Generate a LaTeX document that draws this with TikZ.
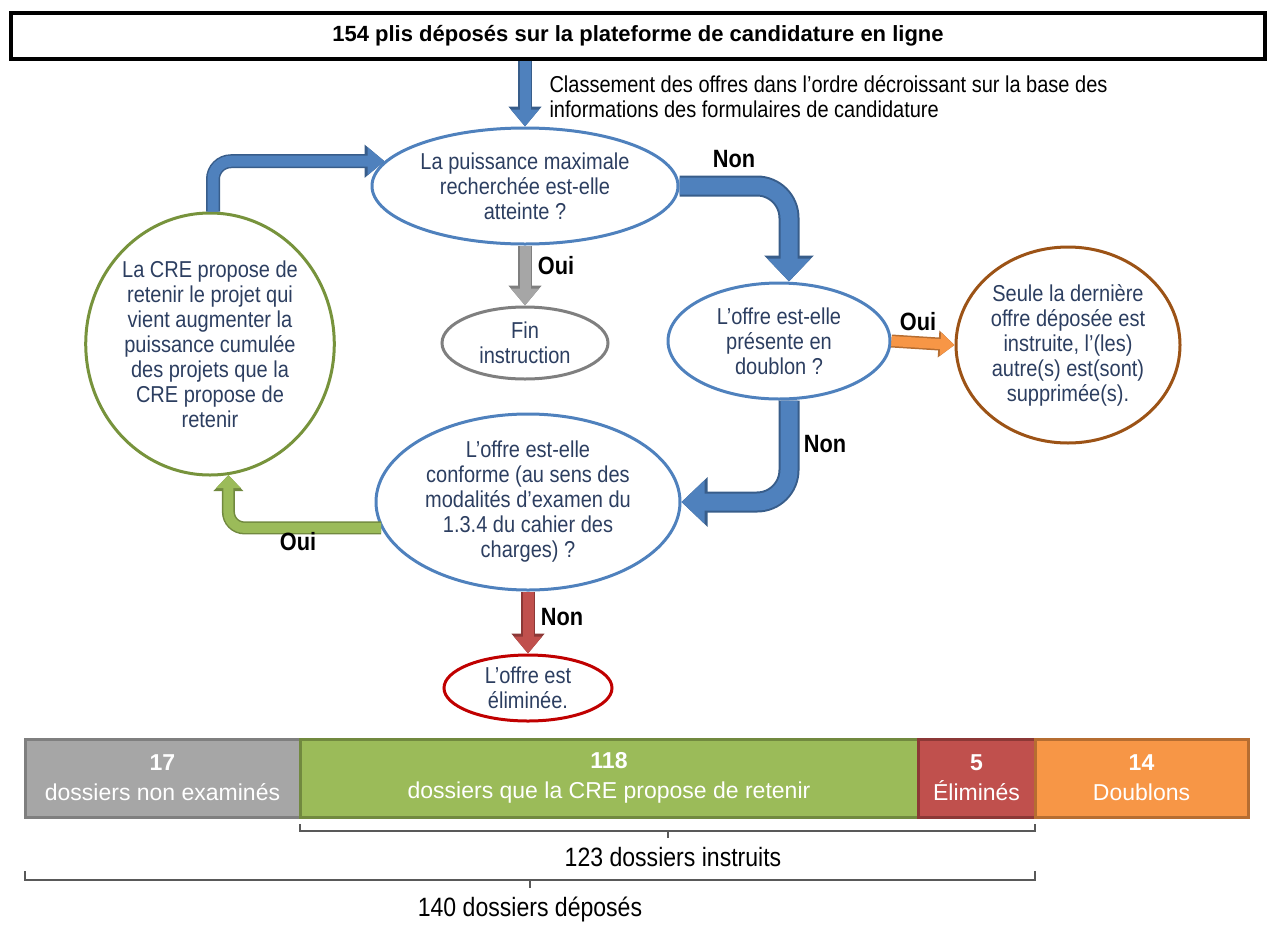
\documentclass[tikz,border=0pt]{standalone}
\usepackage{fontspec}
\setmainfont{Liberation Sans}[FakeStretch=0.87]
\newfontfamily\barfont{Liberation Sans}
\usetikzlibrary{shapes.geometric,arrows.meta}
\definecolor{bluef}{HTML}{4F81BD}
\definecolor{blueb}{HTML}{385D8A}
\definecolor{grayf}{HTML}{A6A6A6}
\definecolor{grayb}{HTML}{7F7F7F}
\definecolor{greenf}{HTML}{9BBB59}
\definecolor{greenb}{HTML}{71893F}
\definecolor{redf}{HTML}{C0504D}
\definecolor{redb}{HTML}{8C3836}
\definecolor{orangef}{HTML}{F79646}
\definecolor{orangeb}{HTML}{B66D31}
\definecolor{brownc}{HTML}{9C5316}
\definecolor{greenc}{HTML}{77933C}
\definecolor{redc}{HTML}{C00000}
\definecolor{txt}{RGB}{44,62,96}
\definecolor{bracec}{HTML}{595959}
\begin{document}
\begin{tikzpicture}[x=1pt,y=-1pt,
  bubble/.style={ellipse,draw=bluef,line width=3pt,inner sep=0pt,align=center,text=txt,
    font=\fontsize{23}{25}\selectfont},
  lbl/.style={font=\bfseries\fontsize{25}{27}\selectfont,text=black},
  arrblue/.style={draw=bluef,line width=11pt,rounded corners=#1,-{Triangle[width=27pt,length=17pt]},
    preaction={draw=blueb,line width=14pt,rounded corners=#1,-{Triangle[width=32pt,length=20pt]}}},
  arrbig/.style={draw=bluef,line width=17pt,rounded corners=32pt,-{Triangle[width=42pt,length=23pt]},
    preaction={draw=blueb,line width=21pt,rounded corners=32pt,-{Triangle[width=48pt,length=26pt]}}},
  arrgray/.style={draw=grayf,line width=11pt,-{Triangle[width=27pt,length=17pt]},
    preaction={draw=grayb,line width=14pt,-{Triangle[width=32pt,length=20pt]}}},
  arrred/.style={draw=redf,line width=11pt,-{Triangle[width=27pt,length=17pt]},
    preaction={draw=redb,line width=14pt,-{Triangle[width=32pt,length=20pt]}}},
  arrgreen/.style={draw=greenf,line width=10pt,rounded corners=16pt,-{Triangle[width=24pt,length=13pt]},
    preaction={draw=greenb,line width=13pt,rounded corners=16pt,-{Triangle[width=29pt,length=16pt]}}},
  arrorange/.style={draw=orangef,line width=10pt,-{Triangle[width=22pt,length=14pt]},
    preaction={draw=orangeb,line width=13pt,-{Triangle[width=26pt,length=16pt]}}},
  seg/.style={rectangle,line width=3pt,inner sep=0pt,minimum height=78pt,align=center,text=white,
    font=\barfont\fontsize{23}{30}\selectfont},
  brace/.style={draw=bracec,line width=1.3pt},
  note/.style={font=\fontsize{26.5}{28}\selectfont,text=black}
]
\useasboundingbox (0,0) rectangle (1268,924);

% top box
\node[draw=black,line width=4.5pt,fill=white,minimum width=1254pt,minimum height=46pt,inner sep=0pt,
  font=\barfont\bfseries\fontsize{22}{26}\selectfont] (top) at (638,36) {154 plis déposés sur la plateforme de candidature en ligne};
\node[anchor=west,align=left,font=\fontsize{23}{25}\selectfont,text=black] (cls) at (546,97)
  {Classement des offres dans l’ordre décroissant sur la base des\\informations des formulaires de candidature};

% flow nodes
\node[bubble,minimum width=306pt,minimum height=116pt] (e1) at (525,186)
  {La puissance maximale\\recherchée est-elle\\atteinte ?};
\node[bubble,draw=grayb,minimum width=166pt,minimum height=72pt] (fin) at (525,343)
  {Fin\\instruction};
\node[bubble,minimum width=222pt,minimum height=116pt] (e2) at (779,341)
  {L’offre est-elle\\présente en\\doublon ?};
\node[bubble,draw=brownc,minimum width=224pt,minimum height=196pt] (dup) at (1068,345)
  {Seule la dernière\\offre déposée est\\instruite, l’(les)\\autre(s) est(sont)\\supprimée(s).};
\node[bubble,minimum width=304pt,minimum height=176pt] (e3) at (528,502)
  {L’offre est-elle\\conforme (au sens des\\modalités d’examen du\\1.3.4 du cahier des\\charges) ?};
\node[bubble,draw=greenc,minimum width=236pt,minimum height=262pt] (cre) at (210,344)
  {La CRE propose de\\retenir le projet qui\\vient augmenter la\\puissance cumulée\\des projets que la\\CRE propose de\\retenir};
\node[bubble,draw=redc,minimum width=168pt,minimum height=66pt] (elim) at (528,688)
  {L’offre est\\éliminée.};

% connectors
\draw[arrblue=0pt] (top.south -| e1.north) -- (e1.north);
\draw[arrgray] (e1.south) -- (fin.north);
\draw[arrbig] (e1.east) -| ([xshift=10pt]e2.north);
\draw[arrorange] (e2.east) -- (dup.west);
\draw[arrbig] ([xshift=10pt]e2.south) |- (e3.east);
\draw[arrgreen] (e3.190) -| (cre.-82);
\draw[arrblue=18pt] ([xshift=3pt]cre.north) |- (e1.170);
\draw[arrred] (e3.south) -- (elim.north);

% labels
\node[lbl] (l1) at (734,159) {Non};
\node[lbl] (l2) at (556,266) {Oui};
\node[lbl] (l3) at (918,322) {Oui};
\node[lbl] (l4) at (825,444) {Non};
\node[lbl] (l5) at (298,542) {Oui};
\node[lbl] (l6) at (562,617) {Non};

% bar
\node[seg,draw=grayb,fill=grayf,minimum width=275pt] (b1) at (162.5,778) {\textbf{17}\\dossiers non examinés};
\node[seg,draw=greenb,fill=greenf,minimum width=618pt] (b2) at (609,778) {\textbf{118}\\dossiers que la CRE propose de retenir};
\node[seg,draw=redb,fill=redf,minimum width=117pt] (b3) at (976.5,778) {\textbf{5}\\Éliminés};
\node[seg,draw=orangeb,fill=orangef,minimum width=213pt] (b4) at (1141.5,778) {\textbf{14}\\Doublons};

% braces
\coordinate (a1) at (300,824);
\coordinate (a2) at (1035,824);
\coordinate (am) at (668,831);
\draw[brace] (a1) -- ++(0,7) -- (a2 |- am) -- (a2);
\draw[brace] (am) -- ++(0,7);
\node[note] (t1) at (673,857) {123 dossiers instruits};
\coordinate (c1) at (25,871);
\coordinate (c2) at (1035,871);
\coordinate (cm) at (530,880);
\draw[brace] (c1) -- ++(0,9) -- (c2 |- cm) -- (c2);
\draw[brace] (cm) -- ++(0,8);
\node[note] (t2) at (530,909) {140 dossiers déposés};
\end{tikzpicture}
\end{document}
